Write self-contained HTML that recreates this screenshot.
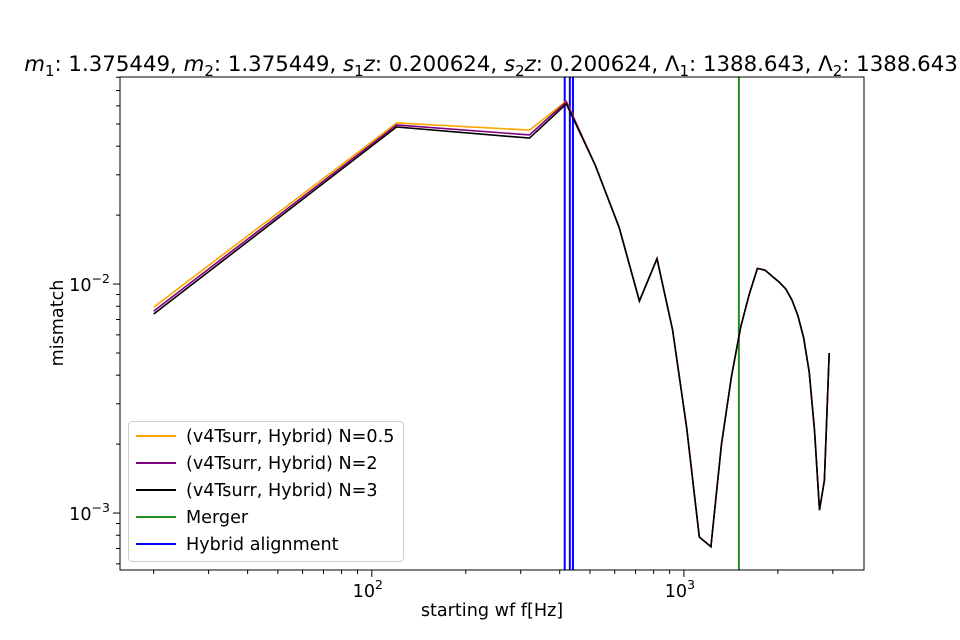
<!DOCTYPE html>
<html><head><meta charset="utf-8"><style>
body{margin:0;background:#fff;}
svg{display:block;font-family:"DejaVu Sans","Liberation Sans",sans-serif;}
</style></head><body>
<svg id="chart" width="960" height="640" viewBox="0 0 960 640">
<rect width="960" height="640" fill="#fff"/>
<text x="491" y="71" text-anchor="middle" font-size="21.3"><tspan font-style="italic">m</tspan><tspan font-size="15" dy="5">1</tspan><tspan dy="-5">: 1.375449, </tspan><tspan font-style="italic">m</tspan><tspan font-size="15" dy="5">2</tspan><tspan dy="-5">: 1.375449, </tspan><tspan font-style="italic">s</tspan><tspan font-size="15" dy="5">1</tspan><tspan dy="-5" font-style="italic">z</tspan><tspan>: 0.200624, </tspan><tspan font-style="italic">s</tspan><tspan font-size="15" dy="5">2</tspan><tspan dy="-5" font-style="italic">z</tspan><tspan>: 0.200624, Λ</tspan><tspan font-size="15" dy="5">1</tspan><tspan dy="-5">: 1388.643, Λ</tspan><tspan font-size="15" dy="5">2</tspan><tspan dy="-5">: 1388.643</tspan></text>
<g id="plot"></g>
<text x="492" y="616" text-anchor="middle" font-size="17.6">starting wf f[Hz]</text>
<text transform="translate(63,323) rotate(-90)" text-anchor="middle" font-size="17.6">mismatch</text>
</svg>
<script>
const freqs = [20,120,320,420,520,620,720,820,920,1020,1120,1220,1320,1420,1520,1620,1720,1820,1920,2020,2120,2220,2320,2420,2520,2620,2720,2820,2920];
const tail = [0.0177,0.00843,0.0129,0.0063,0.00237,0.000786,0.000713,0.002,0.00393,0.00649,0.00904,0.0117,0.0115,0.0108,0.0102,0.00951,0.00851,0.00725,0.00581,0.00413,0.0023,0.00103,0.00139,0.005];
const seriesN05 = [0.00793,0.0505,0.047,0.063,0.033].concat(tail);
const seriesN2 = [0.00762,0.0495,0.0448,0.0625,0.033].concat(tail);
const seriesN3 = [0.0074,0.0485,0.0434,0.0612,0.033].concat(tail);
const alignLines = [415,431,441];
const mergerFreq = [1500];
const xMajor = [100,1000];
const xMinor = [20,30,40,50,60,70,80,90,200,300,400,500,600,700,800,900,2000,3000];
const yMajor = [0.001,0.01];
const yMinor = [0.0006,0.0007,0.0008,0.0009,0.002,0.003,0.004,0.005,0.006,0.007,0.008,0.009,0.02,0.03,0.04,0.05,0.06,0.07,0.08];
const legendLabels = ["(v4Tsurr, Hybrid) N=0.5","(v4Tsurr, Hybrid) N=2","(v4Tsurr, Hybrid) N=3","Merger","Hybrid alignment"];

const L=120,R=864,T=77,B=570;
const xMin=Math.log10(15.6),xMax=Math.log10(3776);
const yMin=Math.log10(0.000564),yMax=Math.log10(0.0802);
const X=v=>L+(Math.log10(v)-xMin)/(xMax-xMin)*(R-L);
const Y=v=>B-(Math.log10(v)-yMin)/(yMax-yMin)*(B-T);
const NS="http://www.w3.org/2000/svg";
const g=document.getElementById('plot');
function mk(tag,attrs,parent){const e=document.createElementNS(NS,tag);for(const k in attrs)e.setAttribute(k,attrs[k]);(parent||g).appendChild(e);return e;}

alignLines.forEach(f=>{const e=mk('line',{x1:X(f),x2:X(f),y1:T,y2:B,stroke:'#0000ff','stroke-width':2});

});
mergerFreq.forEach(f=>{const e=mk('line',{x1:X(f),x2:X(f),y1:T,y2:B,stroke:'#228b22','stroke-width':2});

});

function series(vals,color,name){
  const d=vals.map((v,i)=>(i?'L':'M')+X(freqs[i]).toFixed(1)+','+Y(v).toFixed(1)).join('');
  const e=mk('path',{d:d,fill:'none',stroke:color,'stroke-width':1.6,'stroke-linejoin':'miter'});
  
  
}
series(seriesN05,'#ffa500','series-n05');
series(seriesN2,'#800080','series-n2');
series(seriesN3,'#000000','series-n3');

const fr=mk('rect',{x:L,y:T,width:R-L,height:B-T,fill:'none',stroke:'#000','stroke-width':1});



xMajor.forEach(v=>{const x=X(v);mk('line',{x1:x,x2:x,y1:B,y2:B+7,stroke:'#000'});
 const t=mk('text',{x:x-4,y:B+27,'text-anchor':'middle','font-size':17.6});
 
 
 t.innerHTML='10<tspan font-size="12.5" dy="-8">'+Math.round(Math.log10(v))+'</tspan>';});
xMinor.forEach(v=>{const x=X(v);mk('line',{x1:x,x2:x,y1:B,y2:B+4,stroke:'#000'});});
yMajor.forEach(v=>{const y=Y(v);mk('line',{x1:L-7,x2:L,y1:y,y2:y,stroke:'#000'});
 const t=mk('text',{x:L-10,y:y+7,'text-anchor':'end','font-size':17.6});
 
 
 t.innerHTML='10<tspan font-size="12.5" dy="-8">−'+Math.round(-Math.log10(v))+'</tspan>';});
yMinor.forEach(v=>{const y=Y(v);mk('line',{x1:L-4,x2:L,y1:y,y2:y,stroke:'#000'});});

const lg=mk('g',{});


mk('rect',{x:128.5,y:421.5,width:275,height:140,rx:4,fill:'#fff','fill-opacity':0.8,stroke:'#ccc'},lg);
const lc=['#ffa500','#800080','#000000','#228b22','#0000ff'];
legendLabels.forEach((s,i)=>{const y=436+i*27;
 const en=mk('g',{},lg);
 
 
 mk('line',{x1:136,x2:176,y1:y,y2:y,stroke:lc[i],'stroke-width':2},en);
 const t=mk('text',{x:186,y:y+6,'font-size':17.6},en);t.textContent=s;});
</script>
</body></html>
